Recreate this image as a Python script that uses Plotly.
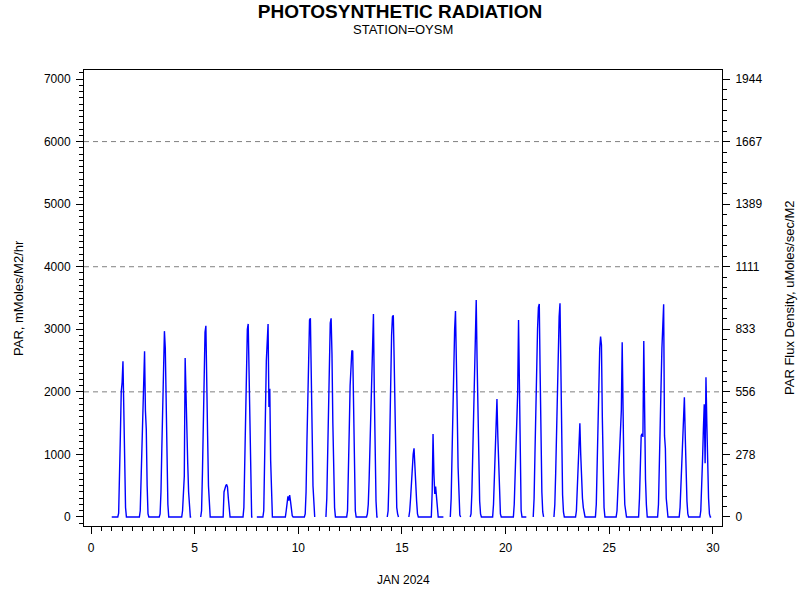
import plotly.graph_objects as go

# ---------------- data ----------------
DAYS = list(range(1, 30))
# first hour of each day's listed (daylight) values
DAY_START_HOUR = [8, 8, 8, 10, 7, 9, 8, 7, 9, 8,
                  8, 8, 7, 7, 8, 10, 8, 7, 9, 9,
                  8, 8, 9, 8, 8, 10, 8, 9, 9]
# hourly PAR values, mMoles/M2/hr, starting at DAY_START_HOUR
DAY_VALUES = [
    [60, 500, 1300, 2000, 2150, 2490, 1600, 700, 150, 0],
    [0, 100, 600, 1300, 1800, 2300, 2650, 1700, 1400, 500, 50, 0],
    [50, 400, 1100, 1900, 2600, 2970, 2700, 1700, 800, 200, 0],
    [100, 500, 650, 2540, 1800, 1000, 850, 400, 100, 0],
    [0, 100, 700, 1700, 2500, 2950, 3057, 2400, 1300, 500, 80, 0],
    [0, 400, 460, 500, 520, 480, 300, 100, 0],
    [0, 150, 900, 1800, 2600, 3000, 3085, 2200, 1100, 300, 0, 0],
    [0, 100, 700, 1700, 2500, 3000, 3085, 1760, 2050, 900, 250, 0],
    [0, 100, 250, 330, 260, 350, 250, 100, 20, 0],
    [50, 400, 1200, 2100, 2800, 3150, 3175, 2500, 1400, 500, 100, 0],
    [0, 300, 1000, 1900, 2600, 3100, 3175, 2600, 1500, 600, 150, 0],
    [0, 100, 600, 1400, 2100, 2375, 2660, 2650, 1500, 600, 100, 0],
    [0, 50, 200, 600, 1200, 1800, 2400, 2900, 3244, 2000, 900, 250, 0, 0],
    [0, 100, 600, 1500, 2300, 2900, 3200, 3223, 2500, 1500, 600, 150, 50, 0],
    [0, 100, 300, 600, 850, 1000, 1098, 700, 500, 250, 50, 0],
    [0, 400, 1326, 700, 368, 485, 350, 100, 0],
    [0, 300, 1000, 1800, 2500, 3000, 3292, 2700, 1700, 800, 250, 30, 0],
    [0, 50, 400, 1100, 1900, 2600, 3100, 3468, 2500, 1500, 700, 250, 50, 0],
    [0, 200, 700, 1200, 1700, 1886, 1300, 800, 300, 50, 0],
    [0, 200, 700, 1300, 1700, 1987, 3148, 1800, 700, 100, 0],
    [0, 300, 1000, 1800, 2500, 3000, 3350, 3404, 2300, 1200, 400, 80, 0],
    [0, 200, 700, 1400, 2100, 2700, 3200, 3415, 2300, 1100, 350, 80, 0],
    [0, 100, 400, 800, 1180, 1497, 1000, 600, 300, 150, 50, 0],
    [0, 200, 800, 1500, 2200, 2700, 2883, 2750, 1600, 600, 150, 0],
    [0, 100, 400, 800, 1150, 1350, 1700, 2792, 1000, 700, 200, 30, 0],
    [0, 300, 900, 1300, 1330, 1280, 2813, 1200, 600, 200, 0],
    [0, 200, 700, 1400, 2100, 2700, 3200, 3399, 1300, 1100, 300, 50, 0],
    [0, 150, 500, 1000, 1500, 1850, 1913, 1300, 700, 250, 50, 0],
    [0, 100, 400, 900, 1400, 1801, 858, 2233, 1500, 800, 300, 50, 0],
]
NIGHT_VALUE = 0  # nights read as zero
# missing records (day, hour) .. (day, hour), inclusive -> gaps in the line
MISSING_SPANS = [
    ((4, 21), (5, 6)),
    ((7, 20), (7, 23)),
    ((10, 20), (11, 7)),
    ((13, 21), (14, 6)),
    ((14, 21), (15, 7)),
    ((17, 1), (17, 7)),
    ((17, 21), (18, 6)),
    ((21, 1), (21, 7)),
    ((21, 21), (22, 7)),
]
LAST_RECORD = (29, 22)

LEFT_TICKS = [0, 1000, 2000, 3000, 4000, 5000, 6000, 7000]
RIGHT_TICK_LABELS = ["0", "278", "556", "833", "1111", "1389", "1667", "1944"]
X_TICKS = [0, 5, 10, 15, 20, 25, 30]
GRID_LEVELS = [2000, 4000, 6000]

TITLE = "PHOTOSYNTHETIC RADIATION"
SUBTITLE = "STATION=OYSM"
X_TITLE = "JAN 2024"
Y_TITLE = "PAR, mMoles/M2/hr"
Y2_TITLE = "PAR Flux Density, uMoles/sec/M2"

# ---------------- build hourly series ----------------
def key(d, h):
    return d * 24 + h

missing = set()
for (d0, h0), (d1, h1) in MISSING_SPANS:
    for k in range(key(d0, h0), key(d1, h1) + 1):
        missing.add(k)

daylight = {}
for d, h0, vals in zip(DAYS, DAY_START_HOUR, DAY_VALUES):
    for i, v in enumerate(vals):
        daylight[key(d, h0 + i)] = v

xs, ys = [], []
for d in DAYS:
    for h in range(24):
        k = key(d, h)
        if k > key(*LAST_RECORD):
            break
        xs.append(d + h / 24.0)
        if k in missing:
            ys.append(None)
        else:
            ys.append(daylight.get(k, NIGHT_VALUE))

FONT = "Liberation Sans, Arial, sans-serif"
YR = [-144, 7144]
XR = [-0.338, 30.44]

fig = go.Figure()
fig.add_trace(go.Scatter(x=xs, y=ys, mode="lines",
                         line=dict(color="#0000ff", width=1.4),
                         connectgaps=False, showlegend=False))
# invisible trace so the right-hand axis is drawn
fig.add_trace(go.Scatter(x=xs, y=ys, mode="lines", yaxis="y2",
                         line=dict(color="rgba(0,0,0,0)", width=0),
                         hoverinfo="skip", showlegend=False))

for g in GRID_LEVELS:
    fig.add_shape(type="line", xref="paper", x0=0, x1=1, yref="y", y0=g, y1=g,
                  line=dict(color="#808080", width=1, dash="5px,4px"), layer="below")

fig.update_layout(
    width=800, height=600,
    margin=dict(l=84, r=78, t=70, b=74),
    paper_bgcolor="white", plot_bgcolor="white",
    font=dict(family=FONT, size=12, color="black"),
    title=dict(text="<b>" + TITLE + "</b>", x=0.5, xref="container", xanchor="center",
               y=1 - 11 / 600, yref="container", yanchor="middle",
               font=dict(family=FONT, size=19, color="black")),
    xaxis=dict(range=XR, tickvals=X_TICKS, ticks="outside", ticklen=7, tickwidth=1,
               tickcolor="black", showline=True, linecolor="black", linewidth=1,
               mirror=True, showgrid=False, zeroline=False,
               tickfont=dict(size=12), ticklabelstandoff=4,
               minor=dict(dtick=0.5, tick0=0, ticks="outside", ticklen=4,
                          tickcolor="black", showgrid=False)),
    yaxis=dict(range=YR, tickvals=LEFT_TICKS, ticks="outside", ticklen=7, tickwidth=1,
               tickcolor="black", showline=True, linecolor="black", linewidth=1,
               showgrid=False, zeroline=False, tickfont=dict(size=12),
               ticklabelstandoff=3,
               minor=dict(dtick=100, tick0=0, ticks="outside", ticklen=4,
                          tickcolor="black", showgrid=False)),
    yaxis2=dict(range=YR, overlaying="y", side="right", tickmode="array",
                tickvals=LEFT_TICKS, ticktext=RIGHT_TICK_LABELS,
                ticks="outside", ticklen=7, tickwidth=1, tickcolor="black",
                showline=True, linecolor="black", linewidth=1,
                showgrid=False, zeroline=False, tickfont=dict(size=12),
                ticklabelstandoff=3,
                minor=dict(dtick=1000 / 6, tick0=0, ticks="outside", ticklen=4,
                           tickcolor="black", showgrid=False)),
    annotations=[
        dict(text=SUBTITLE, xref="paper", yref="paper", x=0.5, y=1 + 40 / 456,
             xanchor="center", yanchor="middle", showarrow=False,
             font=dict(size=13)),
        dict(text=X_TITLE, xref="paper", yref="paper", x=0.5, y=-(580 - 526) / 456,
             xanchor="center", yanchor="middle", showarrow=False,
             font=dict(size=12)),
        dict(text=Y_TITLE, xref="paper", yref="paper", x=(18 - 84) / 638, y=0.5,
             xanchor="center", yanchor="middle", textangle=-90, showarrow=False,
             font=dict(size=13)),
        dict(text=Y2_TITLE, xref="paper", yref="paper", x=(789 - 84) / 638,
             y=0.5, xanchor="center", yanchor="middle",
             textangle=-90, showarrow=False, font=dict(size=13)),
    ],
)

fig.write_html("out.html",
               config={"displayModeBar": False},
               post_script="document.body.style.margin='0';"
                           "document.body.style.overflow='hidden';")
